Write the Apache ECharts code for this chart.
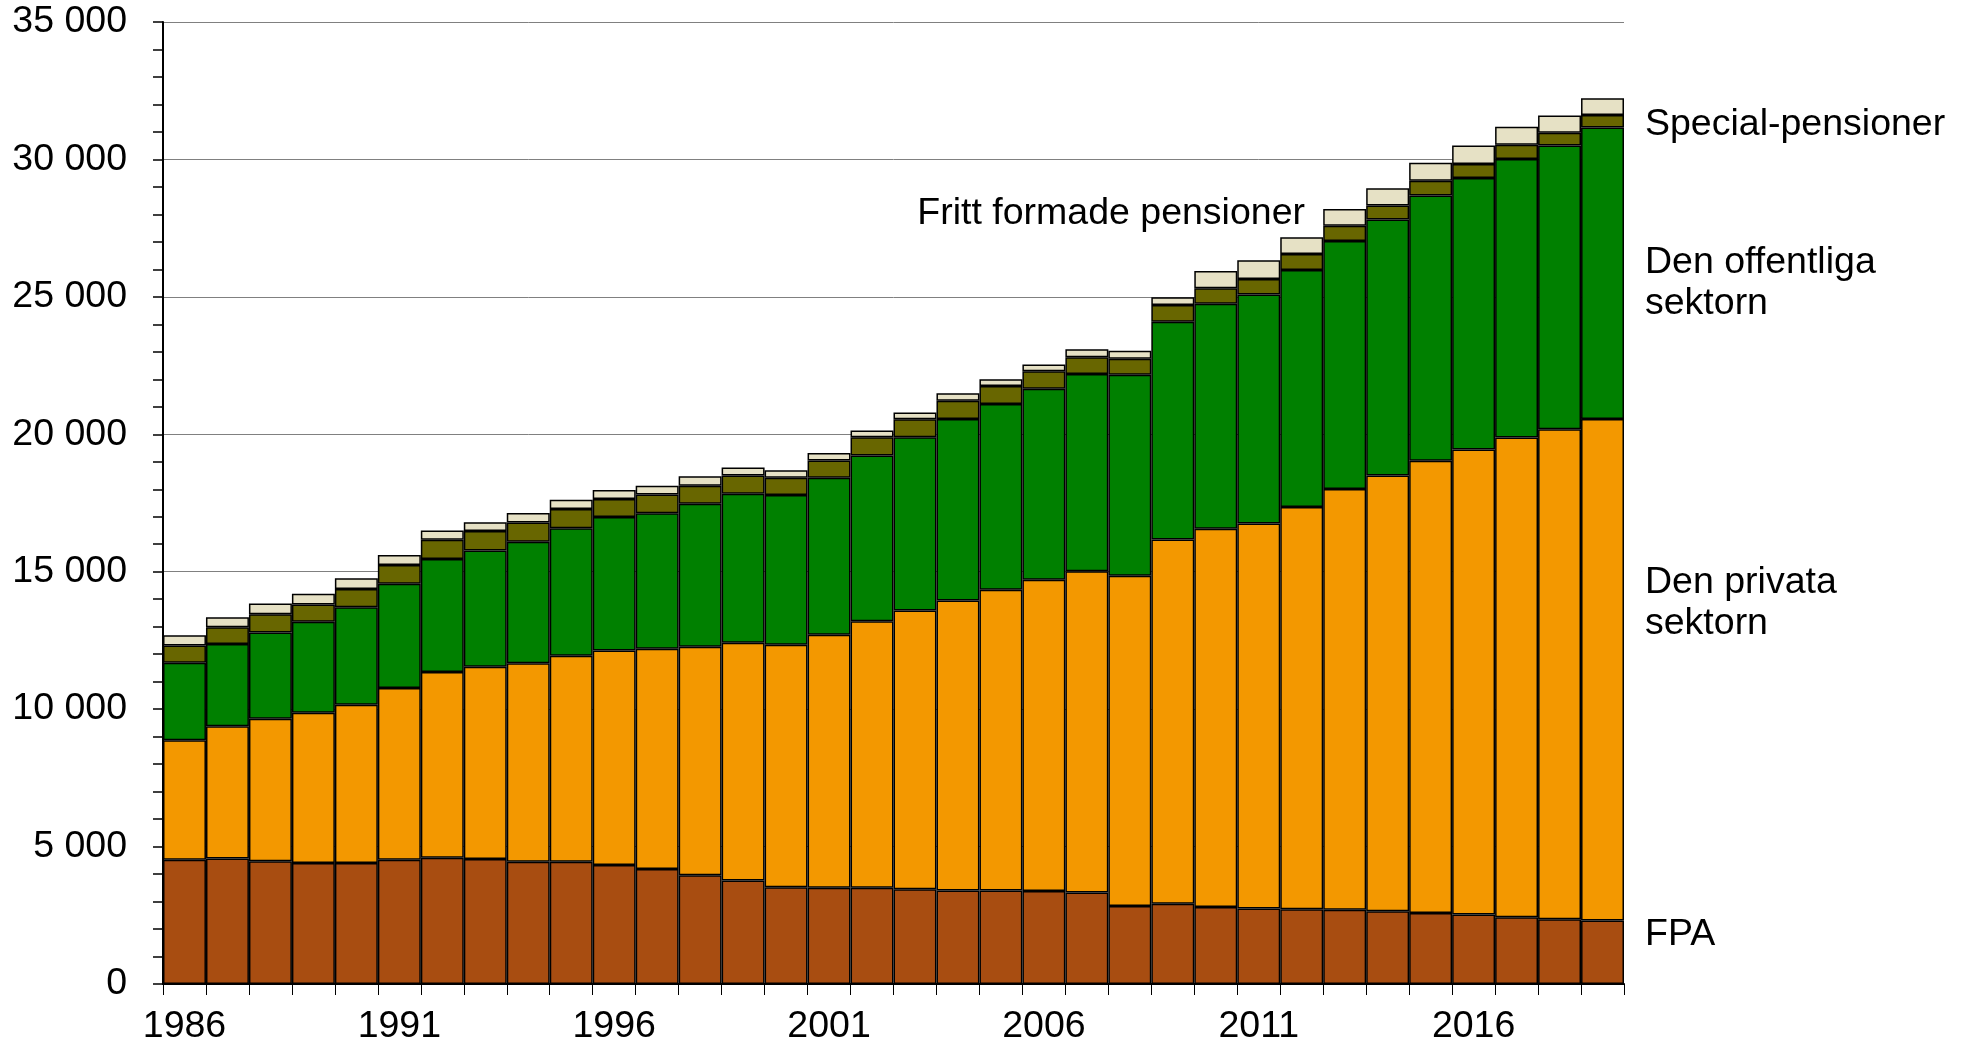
<!DOCTYPE html>
<html>
<head>
<meta charset="utf-8">
<script src="https://cdn.jsdelivr.net/npm/echarts@6/dist/echarts.min.js"></script>
<style>
  html, body { margin: 0; padding: 0; background: #fff; }
  #chart { width: 1971px; height: 1047px; }
</style>
</head>
<body>
<div id="chart"></div>
<script>
// år
let years = []
for (let y = 1986; y <= 2019; y++) years.push(String(y))

// värden (staplade)
let fpa = [4520, 4570, 4470, 4400, 4400, 4520, 4590, 4545, 4450, 4450, 4330, 4180,
  3960, 3770, 3520, 3500, 3500, 3450, 3400, 3400, 3380, 3330, 2840, 2920,
  2800, 2750, 2720, 2700, 2650, 2580, 2530, 2430, 2360, 2310]
let privata = [4350, 4810, 5180, 5470, 5760, 6250, 6760, 7000, 7220, 7490, 7800, 8020,
  8310, 8650, 8820, 9210, 9700, 10140, 10550, 10940, 11330, 11690, 12010, 13250,
  13760, 14000, 14630, 15310, 15850, 16460, 16920, 17450, 17820, 18250]
let offentliga = [2820, 2990, 3140, 3310, 3550, 3790, 4110, 4230, 4420, 4640, 4860, 4930,
  5200, 5420, 5450, 5710, 6030, 6300, 6610, 6760, 6950, 7170, 7320, 7920,
  8190, 8340, 8630, 9020, 9310, 9650, 9870, 10140, 10330, 10600]
let special = [630, 610, 660, 630, 660, 680, 700, 705, 705, 700, 660, 680,
  660, 660, 630, 630, 660, 660, 660, 660, 630, 610, 580, 610,
  560, 560, 580, 560, 510, 535, 510, 510, 460, 460]
let fritt = [365, 365, 390, 390, 390, 365, 340, 320, 340, 340, 320, 320,
  340, 290, 270, 270, 245, 245, 270, 245, 245, 290, 290, 290,
  630, 680, 610, 610, 630, 655, 680, 655, 630, 610]

let font = "'Liberation Sans', Arial, sans-serif"
let fs = 37.5

let mychart = echarts.init(document.querySelector('#chart'))

function bar(name, data, color) {
  return {
    name,
    type: 'bar',
    stack: 'total',
    barCategoryGap: '0%',
    data,
    itemStyle: { color, borderColor: '#000', borderWidth: 1.5 },
    animation: false
  }
}

// textetiketter till höger
function txt(text, x, y, align) {
  return {
    type: 'text',
    left: align == 'right' ? undefined : x,
    right: align == 'right' ? 1971 - x : undefined,
    top: y,
    style: { text, font: fs + 'px ' + font, fill: '#000', lineHeight: 41 }
  }
}

let option = {
  backgroundColor: '#fff',
  animation: false,
  grid: { left: 163, right: 347, top: 22, bottom: 63, containLabel: false },
  xAxis: {
    type: 'category',
    data: years,
    boundaryGap: true,
    axisLine: { lineStyle: { color: '#000', width: 2 } },
    axisTick: { show: true, interval: 0, length: 11, lineStyle: { color: '#000', width: 1 } },
    axisLabel: { interval: 4, fontSize: fs, fontFamily: font, color: '#000', margin: 24 }
  },
  yAxis: {
    type: 'value',
    min: 0,
    max: 35000,
    interval: 5000,
    axisLine: { show: true, lineStyle: { color: '#000', width: 2 } },
    axisTick: { show: true, length: 10, lineStyle: { color: '#000', width: 1.5 } },
    minorTick: { show: true, splitNumber: 5, length: 10, lineStyle: { color: '#000', width: 1.5 } },
    splitLine: { lineStyle: { color: '#808080', width: 1 } },
    axisLabel: {
      fontSize: fs,
      fontFamily: font,
      color: '#000',
      margin: 36,
      formatter: function(v) {
        return String(v).replace(/\B(?=(\d{3})+(?!\d))/g, ' ')
      }
    }
  },
  series: [
    bar('FPA', fpa, '#A84D11'),
    bar('Den privata sektorn', privata, '#F39800'),
    bar('Den offentliga sektorn', offentliga, '#008000'),
    bar('Special-pensioner', special, '#686600'),
    bar('Fritt formade pensioner', fritt, '#E6E1C5')
  ],
  graphic: [
    txt('Special-pensioner', 1645, 104),
    txt('Den offentliga\nsektorn', 1645, 242),
    txt('Den privata\nsektorn', 1645, 562),
    txt('FPA', 1645, 914),
    txt('Fritt formade pensioner', 1305, 193, 'right')
  ]
}

mychart.setOption(option)
</script>
</body>
</html>
